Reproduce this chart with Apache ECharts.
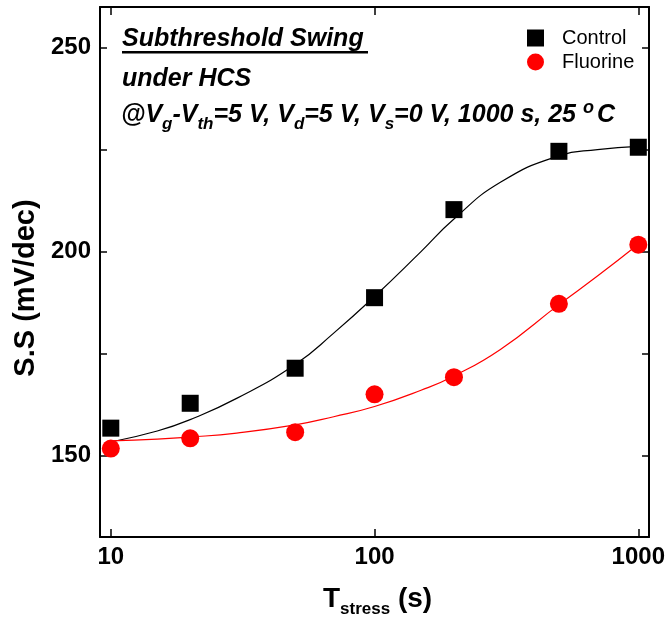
<!DOCTYPE html>
<html>
<head>
<meta charset="utf-8">
<script src="https://cdn.jsdelivr.net/npm/echarts@6/dist/echarts.min.js"></script>
<style>html,body{margin:0;padding:0;background:#fff}#c{width:668px;height:628px}</style>
</head>
<body>
<div id="c"></div>
<script>
// measured data
var stressTime = [10, 20, 50, 100, 200, 500, 1000];
var controlSS = [156.7, 162.8, 171.4, 188.7, 210.3, 224.6, 225.6];
var fluorineSS = [151.7, 154.2, 155.7, 165.0, 169.2, 187.2, 201.7];
// fit curves
var fitTime = [10, 15, 20, 30, 50, 70, 100, 150, 200, 300, 500, 700, 1000];
var controlFit = [153.3, 156.0, 158.8, 164.0, 172.3, 180.0, 189.0, 200.0, 208.0, 217.0, 223.5, 225.0, 225.8];
var fluorineFit = [153.6, 154.0, 154.5, 155.5, 157.5, 159.5, 162.0, 166.0, 169.5, 176.0, 187.0, 194.0, 201.8];
var xTickValues = [10, 100, 1000];
var yTickValues = [150, 175, 200, 225, 250];
var yTickLabels = [150, 200, 250];

function pairs(xs, ys) { return xs.map(function (x, i) { return [x, ys[i]]; }); }

var chart = echarts.init(document.getElementById('c'), null, { renderer: 'canvas' });
var FONT = 'Liberation Sans, Arial, sans-serif';

var tickStyle = { color: '#000', width: 1.5 };
var lineStyle = { color: '#000', width: 2 };

var option = {
  backgroundColor: '#fff',
  animation: false,
  textStyle: { fontFamily: FONT },
  grid: { left: 100, right: 16, top: 7, bottom: 91, containLabel: false },
  legend: {
    data: ['Control', 'Fluorine'],
    orient: 'vertical',
    left: 522, top: 23,
    itemWidth: 17, itemHeight: 17, itemGap: 4,
    formatter: function (name) { return '{t|' + name + '}'; },
    textStyle: {
      fontFamily: FONT, fontSize: 20, color: '#000',
      rich: { t: { fontFamily: FONT, fontSize: 20, color: '#000', lineHeight: 20, padding: [0, 0, 0, 13] } }
    }
  },
  xAxis: [{
    type: 'log', logBase: 10, min: 9.1, max: 1098,
    position: 'bottom',
    name: '{b|T}{s|stress}{b| (s)}',
    nameLocation: 'middle', nameGap: 47,
    nameTextStyle: {
      padding: [0, 0, 0, 6],
      rich: {
        b: { fontFamily: FONT, fontSize: 28, fontWeight: 'bold', color: '#000', lineHeight: 30 },
        s: { fontFamily: FONT, fontSize: 17, fontWeight: 'bold', color: '#000', lineHeight: 20, padding: [20, 0, 0, 0] }
      }
    },
    axisLine: { show: true, lineStyle: lineStyle },
    axisTick: { show: true, inside: true, length: 8, lineStyle: tickStyle, customValues: xTickValues },
    minorTick: { show: false },
    splitLine: { show: false },
    axisLabel: {
      margin: 8, fontFamily: FONT, fontSize: 24, fontWeight: 'bold', color: '#000',
      customValues: xTickValues,
      formatter: function (v) { return String(Math.round(v)); }
    }
  }, {
    type: 'log', logBase: 10, min: 9.1, max: 1098,
    position: 'top',
    axisLine: { show: true, lineStyle: lineStyle },
    axisTick: { show: true, inside: true, length: 8, lineStyle: tickStyle, customValues: xTickValues },
    axisLabel: { show: false },
    splitLine: { show: false }
  }],
  yAxis: [{
    type: 'value', min: 130, max: 260,
    position: 'left',
    name: 'S.S (mV/dec)',
    nameLocation: 'middle', nameGap: 58, nameRotate: 90,
    nameTextStyle: { fontFamily: FONT, fontSize: 29, fontWeight: 'bold', color: '#000', padding: [0, 32, 0, 0] },
    axisLine: { show: true, lineStyle: lineStyle },
    axisTick: { show: true, inside: true, length: 7, lineStyle: tickStyle, customValues: yTickValues },
    splitLine: { show: false },
    axisLabel: {
      margin: 9, fontFamily: FONT, fontSize: 24, fontWeight: 'bold', color: '#000',
      customValues: yTickLabels
    }
  }, {
    type: 'value', min: 130, max: 260,
    position: 'right',
    axisLine: { show: true, lineStyle: lineStyle },
    axisTick: { show: true, inside: true, length: 7, lineStyle: tickStyle, customValues: yTickValues },
    axisLabel: { show: false },
    splitLine: { show: false }
  }],
  series: [{
    name: 'Control fit', type: 'line', smooth: true, showSymbol: false, symbol: 'none',
    data: pairs(fitTime, controlFit), lineStyle: { color: '#000', width: 1.2 }, z: 2, silent: true
  }, {
    name: 'Fluorine fit', type: 'line', smooth: true, showSymbol: false, symbol: 'none',
    data: pairs(fitTime, fluorineFit), lineStyle: { color: '#ff0000', width: 1.2 }, z: 2, silent: true
  }, {
    name: 'Control', type: 'scatter', symbol: 'rect', symbolSize: 17,
    itemStyle: { color: '#000', opacity: 1 }, data: pairs(stressTime, controlSS), z: 3
  }, {
    name: 'Fluorine', type: 'scatter', symbol: 'circle', symbolSize: 18,
    itemStyle: { color: '#ff0000', opacity: 1 }, data: pairs(stressTime, fluorineSS), z: 3
  }],
  graphic: [{
    type: 'text', left: 122, top: 27,
    style: { text: 'Subthreshold Swing', fontFamily: FONT, fontSize: 25, fontWeight: 'bold', fontStyle: 'italic', fill: '#000' }
  }, {
    type: 'rect', left: 122, top: 51, shape: { width: 246, height: 2.5 }, style: { fill: '#000' }
  }, {
    type: 'text', left: 122, top: 67,
    style: { text: 'under HCS', fontFamily: FONT, fontSize: 25, fontWeight: 'bold', fontStyle: 'italic', fill: '#000' }
  }, {
    type: 'text', left: 121, top: 98,
    style: {
      text: '{m|@V}{s|g}{m|-V}{s|th}{m|=5 V, V}{s|d}{m|=5 V, V}{s|s}{m|=0 V, 1000 s, 25 }{p|o}{m|C}',
      rich: {
        m: { fontFamily: FONT, fontSize: 25, fontWeight: 'bold', fontStyle: 'italic', fill: '#000', lineHeight: 28 },
        s: { fontFamily: FONT, fontSize: 17, fontWeight: 'bold', fontStyle: 'italic', fill: '#000', lineHeight: 18, padding: [18, 0, 0, 0] },
        p: { fontFamily: FONT, fontSize: 18, fontWeight: 'bold', fontStyle: 'italic', fill: '#000', lineHeight: 18, padding: [0, 3, 14, 0] }
      }
    }
  }]
};
chart.setOption(option);
</script>
</body>
</html>
